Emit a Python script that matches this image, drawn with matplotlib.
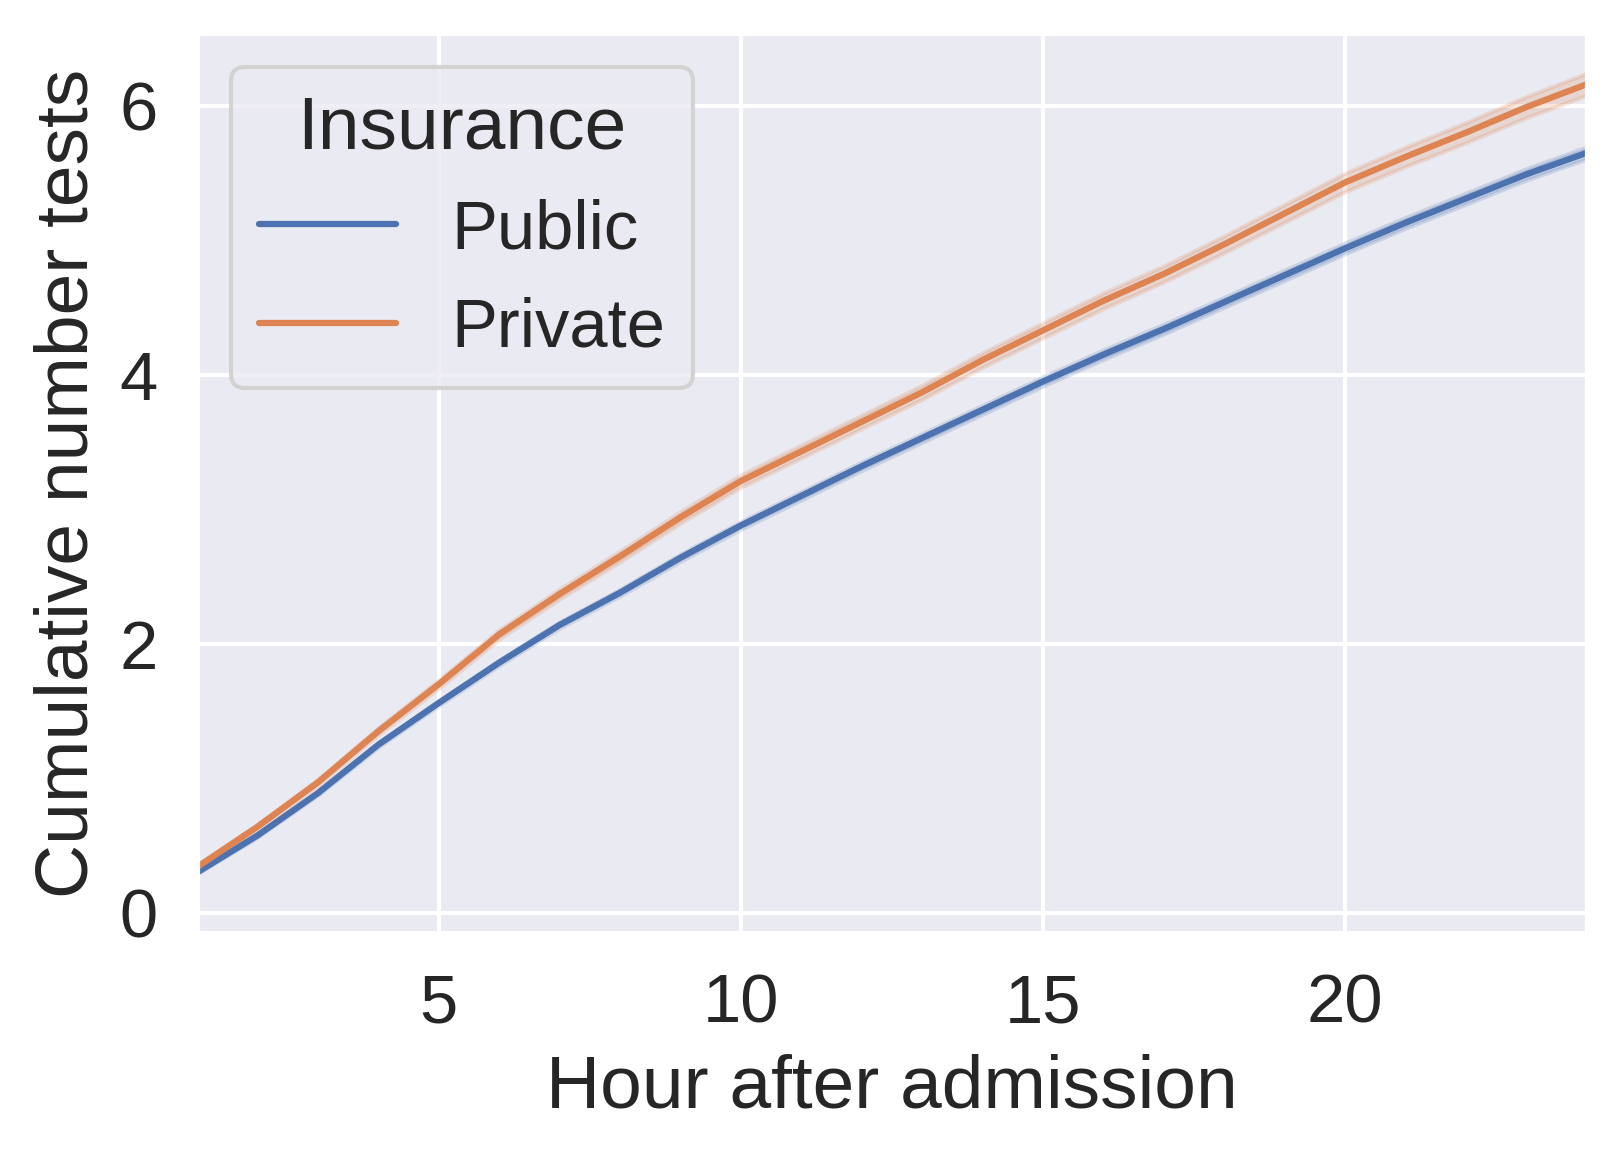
import numpy as np
import matplotlib
matplotlib.use("Agg")
from matplotlib import pyplot as plt
import seaborn as sns

# hours after admission
hours = np.arange(1, 25)

# mean cumulative tests
public_mean = [0.30, 0.575, 0.89, 1.25, 1.56, 1.86, 2.14, 2.38, 2.64, 2.88,
               3.10, 3.32, 3.53, 3.74, 3.95, 4.15, 4.34, 4.54, 4.74, 4.94,
               5.13, 5.31, 5.49, 5.65]
private_mean = [0.34, 0.64, 0.97, 1.35, 1.70, 2.07, 2.37, 2.65, 2.94, 3.21,
                3.43, 3.65, 3.87, 4.11, 4.33, 4.55, 4.75, 4.97, 5.20, 5.43,
                5.62, 5.80, 5.99, 6.16]

# half width of the confidence band
public_ci = [0.010, 0.012, 0.014, 0.016, 0.018, 0.020, 0.022, 0.024, 0.026, 0.028,
             0.030, 0.031, 0.032, 0.033, 0.034, 0.035, 0.036, 0.037, 0.038, 0.039,
             0.040, 0.041, 0.042, 0.044]
private_ci = [0.015, 0.018, 0.022, 0.026, 0.030, 0.034, 0.037, 0.040, 0.043, 0.046,
              0.048, 0.050, 0.052, 0.054, 0.056, 0.058, 0.060, 0.063, 0.066, 0.069,
              0.072, 0.075, 0.078, 0.082]

groups = {"Public": (public_mean, public_ci), "Private": (private_mean, private_ci)}

sns.set_theme(style="darkgrid", font_scale=1.5)
plt.rcParams["font.family"] = ["Arial", "Liberation Sans", "DejaVu Sans"]

fig, ax = plt.subplots(figsize=(1618 / 300, 1155 / 300), dpi=300)
fig.subplots_adjust(left=0.1218, right=0.9808, top=0.9714, bottom=0.1922)

palette = sns.color_palette("deep")
for i, (name, (mean, ci)) in enumerate(groups.items()):
    mean = np.array(mean)
    ci = np.array(ci)
    ax.fill_between(hours, mean - ci, mean + ci, color=palette[i], alpha=0.2)
    ax.plot(hours, mean, color=palette[i], lw=1.5, label=name)

ax.set_xlim(1, 24)
ax.set_ylim(-0.15, 6.54)
ax.set_xticks([5, 10, 15, 20])
ax.set_yticks([0, 2, 4, 6])
ax.set_xlabel("Hour after admission")
ax.set_ylabel("Cumulative number tests")

ax.legend(title="Insurance", loc="upper left")

fig.savefig("out.png", dpi=300)
